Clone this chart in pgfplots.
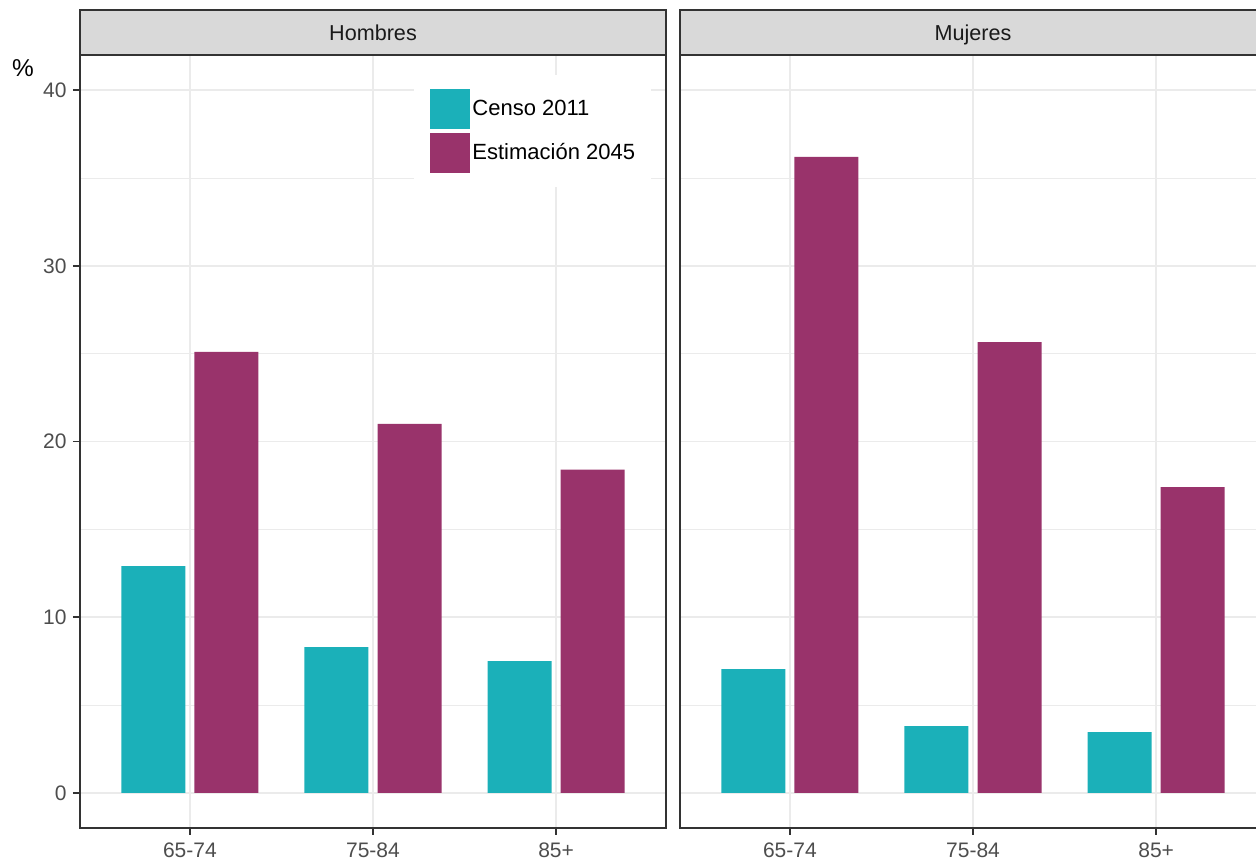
\documentclass[border=0pt]{standalone}
\usepackage{fontspec}
\setmainfont{Liberation Sans}
\usepackage{pgfplots}
\usepackage{pgfplotstable}
\pgfplotsset{compat=1.18}
\definecolor{censo}{RGB}{27,176,185}
\definecolor{estim}{RGB}{153,51,107}
\definecolor{grid92}{RGB}{235,235,235}
\definecolor{gray20}{RGB}{51,51,51}
\definecolor{gray30}{RGB}{77,77,77}
\definecolor{stripfill}{RGB}{217,217,217}
\definecolor{gray10}{RGB}{26,26,26}

\pgfplotstableread{
cat censo estim
1 12.9 25.1
2 8.3 21.0
3 7.5 18.4
}\hombres
\pgfplotstableread{
cat censo estim
1 7.05 36.2
2 3.8 25.65
3 3.45 17.4
}\mujeres

\pgfplotsset{
  sq legend/.style={legend image code/.code={\fill[##1] (0pt,-10pt) rectangle (20pt,10pt);}},
  panel/.style={
    scale only axis, width=293pt, height=386.5pt, anchor=south west,
    xmin=0.4, xmax=3.6, ymin=-2, ymax=42,
    xtick={1,2,3}, xticklabels={65-74,75-84,85+},
    ytick={0,10,20,30,40}, minor ytick={5,15,25,35},
    grid=both,
    major grid style={grid92, line width=0.9pt},
    minor grid style={grid92, line width=0.45pt},
    axis line style={gray20, line width=0.75pt},
    tick align=outside, xtick pos=bottom, ytick pos=left,
    major tick length=3.5pt,
    minor tick style={draw=none},
    tick style={gray20, line width=0.75pt},
    ticklabel style={font=\fontsize{10.5}{12}\selectfont, text=gray30},
    /pgf/number format/assume math mode=true,
    xticklabel style={anchor=north, inner sep=0pt, yshift=-3.5pt},
    yticklabel style={anchor=east, inner sep=0pt, xshift=-3pt},
  },
}

\begin{document}
\begin{tikzpicture}
\useasboundingbox (0,0) rectangle (628pt,430pt);
\clip (0,0) rectangle (628pt,430pt);

\begin{axis}[panel, at={(40pt,16pt)},
  legend style={at={(rel axis cs:0,1)}, anchor=north west, xshift=167pt, yshift=-10pt,
    fill=white, draw=none, inner xsep=8pt, inner ysep=7pt, row sep=2pt, column sep=1pt,
    font=\fontsize{11}{13}\selectfont, nodes={inner sep=0pt, text=black}},
  legend cell align=left]
\addplot[ybar, bar width=32pt, bar shift=-18.3pt, fill=censo, draw=none, sq legend] table[x=cat, y=censo] {\hombres};
\addplot[ybar, bar width=32pt, bar shift=18.3pt, fill=estim, draw=none, sq legend] table[x=cat, y=estim] {\hombres};
\legend{Censo 2011, Estimación 2045}
\end{axis}

\begin{axis}[panel, at={(340pt,16pt)}, yticklabels={}, y tick style={draw=none}]
\addplot[ybar, bar width=32pt, bar shift=-18.3pt, fill=censo, draw=none] table[x=cat, y=censo] {\mujeres};
\addplot[ybar, bar width=32pt, bar shift=18.3pt, fill=estim, draw=none] table[x=cat, y=estim] {\mujeres};
\end{axis}

\draw[gray20, line width=0.75pt, fill=stripfill] (40pt,402.5pt) rectangle (333pt,425pt);
\node[anchor=base, inner sep=0pt, font=\fontsize{10.8}{13}\selectfont, text=gray10] at (186.5pt,409.9pt) {Hombres};
\draw[gray20, line width=0.75pt, fill=stripfill] (340pt,402.5pt) rectangle (633pt,425pt);
\node[anchor=base, inner sep=0pt, font=\fontsize{10.8}{13}\selectfont, text=gray10] at (486.5pt,409.9pt) {Mujeres};
\node[font=\fontsize{12.2}{14}\selectfont, text=black] at (11.5pt,396pt) {\%};
\end{tikzpicture}
\end{document}
